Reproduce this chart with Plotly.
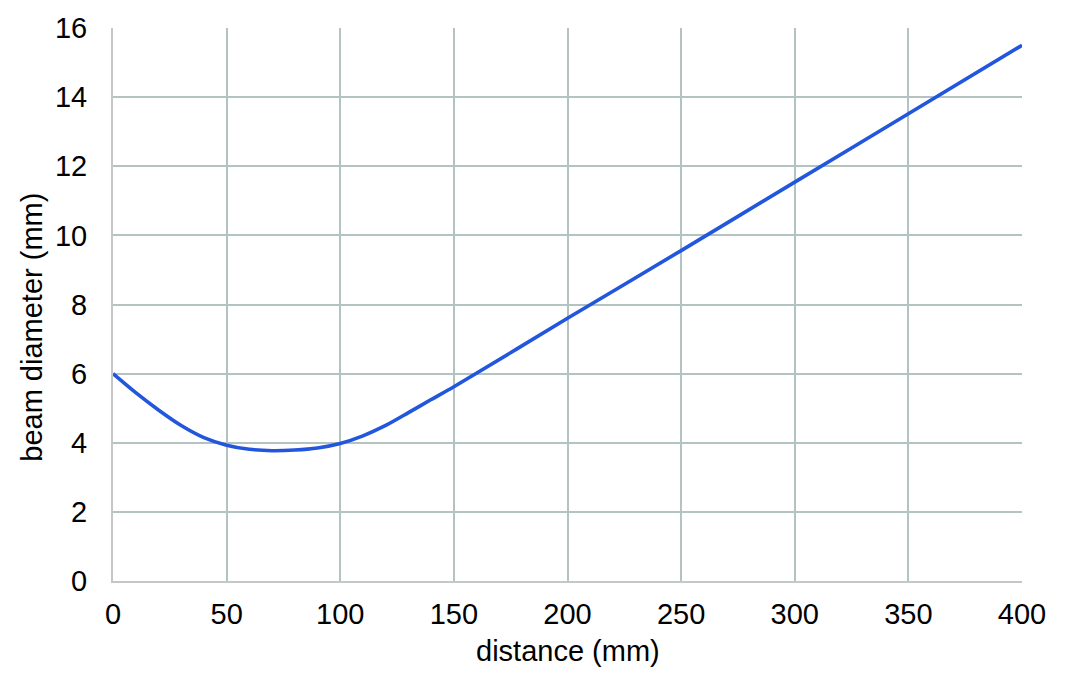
import plotly.graph_objects as go

distance_mm = [0, 10, 20, 30, 40, 50, 60, 70, 80, 90, 100, 110, 120, 130, 140, 150,
               200, 250, 300, 350, 400]
beam_diameter_mm = [6.0, 5.45, 4.95, 4.5, 4.15, 3.93, 3.81, 3.77, 3.79, 3.85, 3.98,
                    4.2, 4.5, 4.87, 5.25, 5.62, 7.6, 9.56, 11.54, 13.52, 15.5]
x_ticks = [0, 50, 100, 150, 200, 250, 300, 350, 400]
y_ticks = [0, 2, 4, 6, 8, 10, 12, 14, 16]
x_title = "distance (mm)"
y_title = "beam diameter (mm)"

FONT = "Liberation Sans, Arial, sans-serif"
GRID = "#b3c3c1"
AXIS = "#c6c6c6"
FS = 29

T, B = 22, 118
PH = 699 - T - B
BOTTOM = 699 - B

fig = go.Figure()
fig.add_trace(go.Scatter(
    x=distance_mm, y=beam_diameter_mm, mode="lines",
    line=dict(color="#2156dd", width=3.6, shape="spline", smoothing=0.8),
    showlegend=False, hoverinfo="skip", cliponaxis=False,
))

fig.update_layout(
    width=1075, height=699,
    margin=dict(l=113, r=53, t=T, b=B),
    paper_bgcolor="white", plot_bgcolor="white",
    font=dict(family=FONT, size=FS, color="black"),
    xaxis=dict(
        range=[0, 400], tickvals=x_ticks, ticktext=[str(v) for v in x_ticks],
        showgrid=True, gridcolor=GRID, gridwidth=2,
        showline=True, linecolor=AXIS, linewidth=2,
        zeroline=False, ticks="", ticklabelstandoff=6,
        ticklabeloverflow="allow",
        tickfont=dict(family=FONT, size=FS, color="black"),
        fixedrange=True,
    ),
    yaxis=dict(
        range=[0, 16], tickvals=y_ticks, ticktext=[str(v) for v in y_ticks],
        showgrid=True, gridcolor=GRID, gridwidth=2,
        showline=True, linecolor=AXIS, linewidth=2,
        zeroline=False, ticks="", ticklabelstandoff=18,
        ticklabeloverflow="allow",
        tickfont=dict(family=FONT, size=FS, color="black"),
        fixedrange=True,
    ),
    annotations=[
        dict(text=x_title, xref="paper", yref="paper", x=0.5, y=(BOTTOM - 652) / PH,
             xanchor="center", yanchor="middle", showarrow=False,
             font=dict(family=FONT, size=FS, color="black")),
        dict(text=y_title, xref="paper", yref="paper", x=(32 - 113) / 909,
             y=(BOTTOM - 325) / PH, xanchor="center", yanchor="middle",
             textangle=-90, showarrow=False,
             font=dict(family=FONT, size=FS, color="black")),
    ],
)

fig.write_html(
    "out.html",
    config={"displayModeBar": False},
    post_script="document.body.style.margin='0';document.body.style.padding='0';",
)
